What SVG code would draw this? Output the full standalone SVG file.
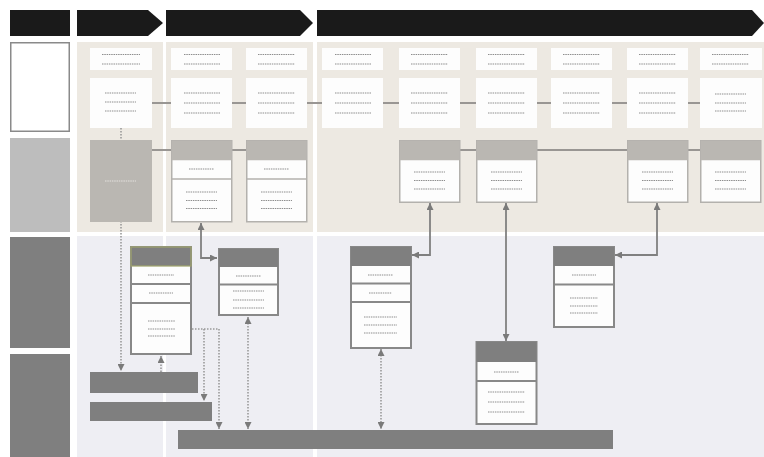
<svg xmlns="http://www.w3.org/2000/svg" width="764" height="457" viewBox="0 0 764 457">
  <style>
    .phase { fill: #1a1a1a; }
    .lane-beige { fill: #ede9e2; }
    .lane-lav { fill: #eeeef3; }
    .card { fill: #fdfdfd; }
    .ph { stroke: #8e8e8e; stroke-width: 1.1; stroke-dasharray: 1.5 0.8; fill: none; }
    .ph-light { stroke: #e4e2de; stroke-width: 1.1; stroke-dasharray: 1.5 0.8; fill: none; }
    .cls-warm { fill: #fdfdfd; stroke: #b3b1ad; stroke-width: 1.5; }
    .hdr-warm { fill: #bab7b2; }
    .cls-dark { fill: #fdfdfd; stroke: #888888; stroke-width: 2; }
    .hdr-dark { fill: #7f7f7f; }
    .bar { fill: #7f7f7f; }
    .link { stroke: #999693; stroke-width: 2; fill: none; }
    .arrow { stroke: #808080; stroke-width: 1.8; fill: none; }
    .dotted { stroke: #9a9a9a; stroke-width: 1.6; stroke-dasharray: 1.5 1.5; fill: none; }
  </style>
  <defs>
    <marker id="tri" viewBox="0 0 10 10" refX="10" refY="5" markerWidth="7" markerHeight="7" markerUnits="userSpaceOnUse" orient="auto-start-reverse">
      <path d="M0,0 L10,5 L0,10 Z" fill="#7a7a7a"/>
    </marker>
  </defs>

  <rect width="764" height="457" fill="#ffffff"/>

  <!-- phase headers -->
  <g id="phases">
    <rect class="phase" x="10" y="10" width="60" height="26"/>
    <polygon class="phase" points="77,10 148,10 163,23 148,36 77,36"/>
    <polygon class="phase" points="166,10 300,10 313,23 300,36 166,36"/>
    <polygon class="phase" points="317,10 752,10 764,23 752,36 317,36"/>
  </g>

  <!-- lane labels -->
  <g id="lane-labels">
    <rect x="10.75" y="42.75" width="58.5" height="88.5" fill="#ffffff" stroke="#8a8a8a" stroke-width="1.5"/>
    <rect x="10" y="138" width="60" height="94" fill="#bdbdbd"/>
    <rect x="10" y="237" width="60" height="111" fill="#7f7f7f"/>
    <rect x="10" y="354" width="60" height="103" fill="#7f7f7f"/>
  </g>

  <!-- lane backgrounds -->
  <g id="lanes">
    <rect class="lane-beige" x="77" y="42" width="86" height="190"/>
    <rect class="lane-beige" x="166" y="42" width="147" height="190"/>
    <rect class="lane-beige" x="317" y="42" width="447" height="190"/>
    <rect class="lane-lav" x="77" y="236" width="86" height="221"/>
    <rect class="lane-lav" x="166" y="236" width="147" height="221"/>
    <rect class="lane-lav" x="317" y="236" width="447" height="221"/>
  </g>

  <!-- connectors -->
  <g id="connectors">
    <!-- step chain -->
    <path class="link" d="M152,103 H171 M232,103 H246 M307,103 H322 M383,103 H399 M460,103 H476 M537,103 H551 M612,103 H627 M688,103 H700"/>
    <!-- entity chain -->
    <path class="link" d="M152,150 H171 M232,150 H246 M460,150 H476 M537,150 H627 M688,150 H700"/>
    <!-- solid links between layers -->
    <path class="arrow" d="M201,223 V258 H217" marker-start="url(#tri)" marker-end="url(#tri)"/>
    <path class="arrow" d="M430,203 V255 H412" marker-start="url(#tri)" marker-end="url(#tri)"/>
    <path class="arrow" d="M657,203 V255 H615" marker-start="url(#tri)" marker-end="url(#tri)"/>
    <path class="arrow" d="M506,203 V341" marker-start="url(#tri)" marker-end="url(#tri)"/>
    <!-- dotted data links -->
    <path class="dotted" d="M121,128 V371" marker-end="url(#tri)"/>
    <path class="dotted" d="M161,372 V356" marker-end="url(#tri)"/>
    <path class="dotted" d="M192,329 H219 V429" marker-end="url(#tri)"/>
    <path class="dotted" d="M204,329 V401" marker-end="url(#tri)"/>
    <path class="dotted" d="M248,317 V429" marker-start="url(#tri)" marker-end="url(#tri)"/>
    <path class="dotted" d="M381,349 V429" marker-start="url(#tri)" marker-end="url(#tri)"/>
  </g>

  <!-- row 1: step cards -->
  <g id="step-1">
    <rect class="card" x="90" y="48" width="62" height="22"/>
    <path class="ph" d="M102,54.5 H140 M102,64 H140"/>
    <rect class="card" x="90" y="78" width="62" height="50"/>
    <path class="ph" d="M105,93 H136 M105,102 H136 M105,111 H136"/>
  </g>
  <g id="step-2">
    <rect class="card" x="171" y="48" width="61" height="22"/>
    <path class="ph" d="M184,54.5 H220 M184,64 H220"/>
    <rect class="card" x="171" y="78" width="61" height="50"/>
    <path class="ph" d="M184,93 H220 M184,103 H220 M184,113 H220"/>
  </g>
  <g id="step-3">
    <rect class="card" x="246" y="48" width="61" height="22"/>
    <path class="ph" d="M258,54.5 H295 M258,64 H295"/>
    <rect class="card" x="246" y="78" width="61" height="50"/>
    <path class="ph" d="M258,93 H295 M258,103 H295 M258,113 H295"/>
  </g>
  <g id="step-4">
    <rect class="card" x="322" y="48" width="61" height="22"/>
    <path class="ph" d="M335,54.5 H371 M335,64 H371"/>
    <rect class="card" x="322" y="78" width="61" height="50"/>
    <path class="ph" d="M335,93 H371 M335,103 H371 M335,113 H371"/>
  </g>
  <g id="step-5">
    <rect class="card" x="399" y="48" width="61" height="22"/>
    <path class="ph" d="M411,54.5 H448 M411,64 H448"/>
    <rect class="card" x="399" y="78" width="61" height="50"/>
    <path class="ph" d="M411,93 H448 M411,103 H448 M411,113 H448"/>
  </g>
  <g id="step-6">
    <rect class="card" x="476" y="48" width="61" height="22"/>
    <path class="ph" d="M488,54.5 H525 M488,64 H525"/>
    <rect class="card" x="476" y="78" width="61" height="50"/>
    <path class="ph" d="M488,93 H525 M488,103 H525 M488,113 H525"/>
  </g>
  <g id="step-7">
    <rect class="card" x="551" y="48" width="61" height="22"/>
    <path class="ph" d="M563,54.5 H600 M563,64 H600"/>
    <rect class="card" x="551" y="78" width="61" height="50"/>
    <path class="ph" d="M563,93 H600 M563,103 H600 M563,113 H600"/>
  </g>
  <g id="step-8">
    <rect class="card" x="627" y="48" width="61" height="22"/>
    <path class="ph" d="M639,54.5 H676 M639,64 H676"/>
    <rect class="card" x="627" y="78" width="61" height="50"/>
    <path class="ph" d="M639,93 H676 M639,103 H676 M639,113 H676"/>
  </g>
  <g id="step-9">
    <rect class="card" x="700" y="48" width="62" height="22"/>
    <path class="ph" d="M712,54.5 H749 M712,64 H749"/>
    <rect class="card" x="700" y="78" width="62" height="50"/>
    <path class="ph" d="M715,94 H746 M715,103 H746 M715,111 H746"/>
  </g>

  <!-- row 2: entities -->
  <g id="entity-source">
    <rect x="90" y="140" width="62" height="82" fill="#bab7b2"/>
    <path class="ph-light" d="M105,181 H136"/>
  </g>
  <g id="entity-a">
    <rect class="cls-warm" x="171.75" y="140.75" width="60" height="81"/>
    <rect class="hdr-warm" x="171.75" y="140.75" width="60" height="19.5"/>
    <line x1="171.75" y1="179" x2="231.75" y2="179" stroke="#b3b1ad" stroke-width="1.5"/>
    <path class="ph" d="M189,169 H214 M186,192 H217 M186,200.5 H217 M186,208.5 H217"/>
  </g>
  <g id="entity-b">
    <rect class="cls-warm" x="246.75" y="140.75" width="60" height="81"/>
    <rect class="hdr-warm" x="246.75" y="140.75" width="60" height="19.5"/>
    <line x1="246.75" y1="179" x2="306.75" y2="179" stroke="#b3b1ad" stroke-width="1.5"/>
    <path class="ph" d="M264,169 H289 M261,192 H292 M261,200.5 H292 M261,208.5 H292"/>
  </g>
  <g id="entity-c">
    <rect class="cls-warm" x="399.75" y="140.75" width="60" height="61.5"/>
    <rect class="hdr-warm" x="399.75" y="140.75" width="60" height="19.5"/>
    <path class="ph" d="M414,172 H445 M414,180.5 H445 M414,189 H445"/>
  </g>
  <g id="entity-d">
    <rect class="cls-warm" x="476.75" y="140.75" width="60" height="61.5"/>
    <rect class="hdr-warm" x="476.75" y="140.75" width="60" height="19.5"/>
    <path class="ph" d="M491,172 H522 M491,180.5 H522 M491,189 H522"/>
  </g>
  <g id="entity-e">
    <rect class="cls-warm" x="627.75" y="140.75" width="60" height="61.5"/>
    <rect class="hdr-warm" x="627.75" y="140.75" width="60" height="19.5"/>
    <path class="ph" d="M642,172 H673 M642,180.5 H673 M642,189 H673"/>
  </g>
  <g id="entity-f">
    <rect class="cls-warm" x="700.75" y="140.75" width="60" height="61.5"/>
    <rect class="hdr-warm" x="700.75" y="140.75" width="60" height="19.5"/>
    <path class="ph" d="M715,172 H746 M715,180.5 H746 M715,189 H746"/>
  </g>

  <!-- row 3: services -->
  <g id="service-a">
    <rect class="cls-dark" x="131" y="247" width="60" height="107"/>
    <rect class="hdr-dark" x="131" y="247" width="60" height="19" stroke="#9ea36c" stroke-width="1.2"/>
    <path d="M131,284 H191 M131,303 H191" stroke="#888" stroke-width="2"/>
    <path class="ph" d="M148,275 H174 M149,293 H173 M148,321 H175 M148,329 H175 M148,336 H175"/>
  </g>
  <g id="service-b">
    <rect class="cls-dark" x="219" y="249" width="59" height="66"/>
    <rect class="hdr-dark" x="219" y="249" width="59" height="18"/>
    <path d="M219,284.5 H278" stroke="#888" stroke-width="2"/>
    <path class="ph" d="M236,276 H261 M233,291 H264 M233,300 H264 M233,308 H264"/>
  </g>
  <g id="service-c">
    <rect class="cls-dark" x="351" y="247" width="60" height="101"/>
    <rect class="hdr-dark" x="351" y="247" width="60" height="19"/>
    <path d="M351,283.5 H411 M351,302 H411" stroke="#888" stroke-width="2"/>
    <path class="ph" d="M368,275 H393 M369,293 H392 M364,317 H397 M364,325 H397 M364,333 H397"/>
  </g>
  <g id="service-d">
    <rect class="cls-dark" x="554" y="247" width="60" height="80"/>
    <rect class="hdr-dark" x="554" y="247" width="60" height="19"/>
    <path d="M554,284.5 H614" stroke="#888" stroke-width="2"/>
    <path class="ph" d="M572,275 H596 M570,298 H598 M570,306 H598 M570,313 H598"/>
  </g>
  <g id="service-e">
    <rect class="cls-dark" x="476.5" y="342" width="60" height="82"/>
    <rect class="hdr-dark" x="476.5" y="342" width="60" height="20"/>
    <path d="M476.5,381 H536.5" stroke="#888" stroke-width="2"/>
    <path class="ph" d="M494,372 H519 M488,392 H525 M488,402 H525 M488,412 H525"/>
  </g>

  <!-- row 4: data stores -->
  <g id="store-1"><rect class="bar" x="90" y="372" width="108" height="21"/></g>
  <g id="store-2"><rect class="bar" x="90" y="402" width="122" height="19"/></g>
  <g id="store-3"><rect class="bar" x="178" y="430" width="435" height="19"/></g>
</svg>
